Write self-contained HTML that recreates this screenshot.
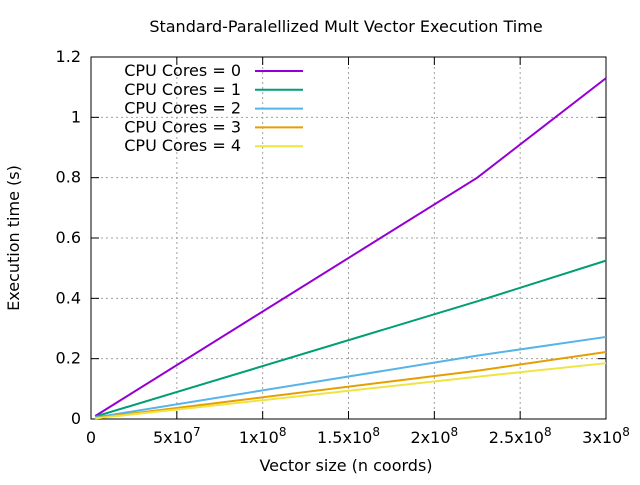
<!DOCTYPE html>
<html><head><meta charset="utf-8"><style>
body{margin:0;background:#fff}
svg text{font-family:"DejaVu Sans","Liberation Sans",sans-serif;font-size:16px;fill:#000}
</style></head><body>
<svg id="chart" width="640" height="480">
<text x="346" y="32" text-anchor="middle">Standard-Paralellized Mult Vector Execution Time</text>
<text transform="translate(19,238) rotate(-90)" text-anchor="middle">Execution time (s)</text>
<text x="346" y="471" text-anchor="middle">Vector size (n coords)</text>
<g id="grid"></g><g id="axes"></g><g id="series"></g><g id="legend"></g>
</svg>
<script>
const xVals=[2.5e6,2.25e8,3e8];
const seriesNames=["CPU Cores = 0","CPU Cores = 1","CPU Cores = 2","CPU Cores = 3","CPU Cores = 4"];
const s0=[0.01,0.80,1.13];
const s1=[0.008,0.39,0.525];
const s2=[0.005,0.21,0.272];
const s3=[0.003,0.16,0.222];
const s4=[0.002,0.14,0.185];
const yTicks=[0,0.2,0.4,0.6,0.8,1,1.2];
const yTickLabels=["0","0.2","0.4","0.6","0.8","1","1.2"];
const xTicks=[0,5e7,1e8,1.5e8,2e8,2.5e8,3e8];
const xTickMant=["0","5x10","1x10","1.5x10","2x10","2.5x10","3x10"];
const xTickExp=["","7","8","8","8","8","8"];
const colors=["#9400d3","#009e73","#56b4e9","#e69f00","#f0e442"];
const L=91,R=606,T=57,B=419;
const sx=v=>L+v/3e8*(R-L), sy=v=>B-v/1.2*(B-T);
const NS="http://www.w3.org/2000/svg";
function mk(t,a,p){const e=document.createElementNS(NS,t);for(const k in a)e.setAttribute(k,a[k]);p.appendChild(e);return e;}
const grid=document.getElementById('grid'),axes=document.getElementById('axes');
yTicks.forEach((v,i)=>{const y=sy(v);
 if(i>0&&i<yTicks.length-1){const g=mk('line',{x1:L,x2:R,y1:y,y2:y,stroke:'#a0a0a0','stroke-dasharray':'2,3'},grid);
 }
 mk('line',{x1:L,x2:L+8,y1:y,y2:y,stroke:'#000'},axes);mk('line',{x1:R,x2:R-8,y1:y,y2:y,stroke:'#000'},axes);
 const t=mk('text',{x:L-10,y:y+5,'text-anchor':'end'},axes);t.textContent=yTickLabels[i];
 });
xTicks.forEach((v,i)=>{const x=sx(v);
 if(i>0&&i<xTicks.length-1){const g=mk('line',{x1:x,x2:x,y1:T,y2:B,stroke:'#a0a0a0','stroke-dasharray':'2,3'},grid);
 }
 mk('line',{x1:x,x2:x,y1:B,y2:B-8,stroke:'#000'},axes);mk('line',{x1:x,x2:x,y1:T,y2:T+8,stroke:'#000'},axes);
 const t=mk('text',{x:x,y:B+24,'text-anchor':'middle'},axes);
 t.textContent=xTickMant[i];
 if(xTickExp[i]){const ts=mk('tspan',{dy:-7,'font-size':'12px'},t);ts.textContent=xTickExp[i];}
 });
const fr=mk('rect',{x:L,y:T,width:R-L,height:B-T,fill:'none',stroke:'#000'},axes);

const all=[s0,s1,s2,s3,s4];const sg=document.getElementById('series'),lg=document.getElementById('legend');
all.forEach((s,k)=>{const pts=s.map((v,i)=>sx(xVals[i])+','+sy(v)).join(' ');
 const p=mk('polyline',{points:pts,fill:'none',stroke:colors[k],'stroke-width':2},sg);
 
 const y=71+k*18.8;
 const t=mk('text',{x:241,y:y+5,'text-anchor':'end'},lg);t.textContent=seriesNames[k];
 
 const l=mk('line',{x1:255,x2:303,y1:y,y2:y,stroke:colors[k],'stroke-width':2},lg);
 });
</script>
</body></html>
